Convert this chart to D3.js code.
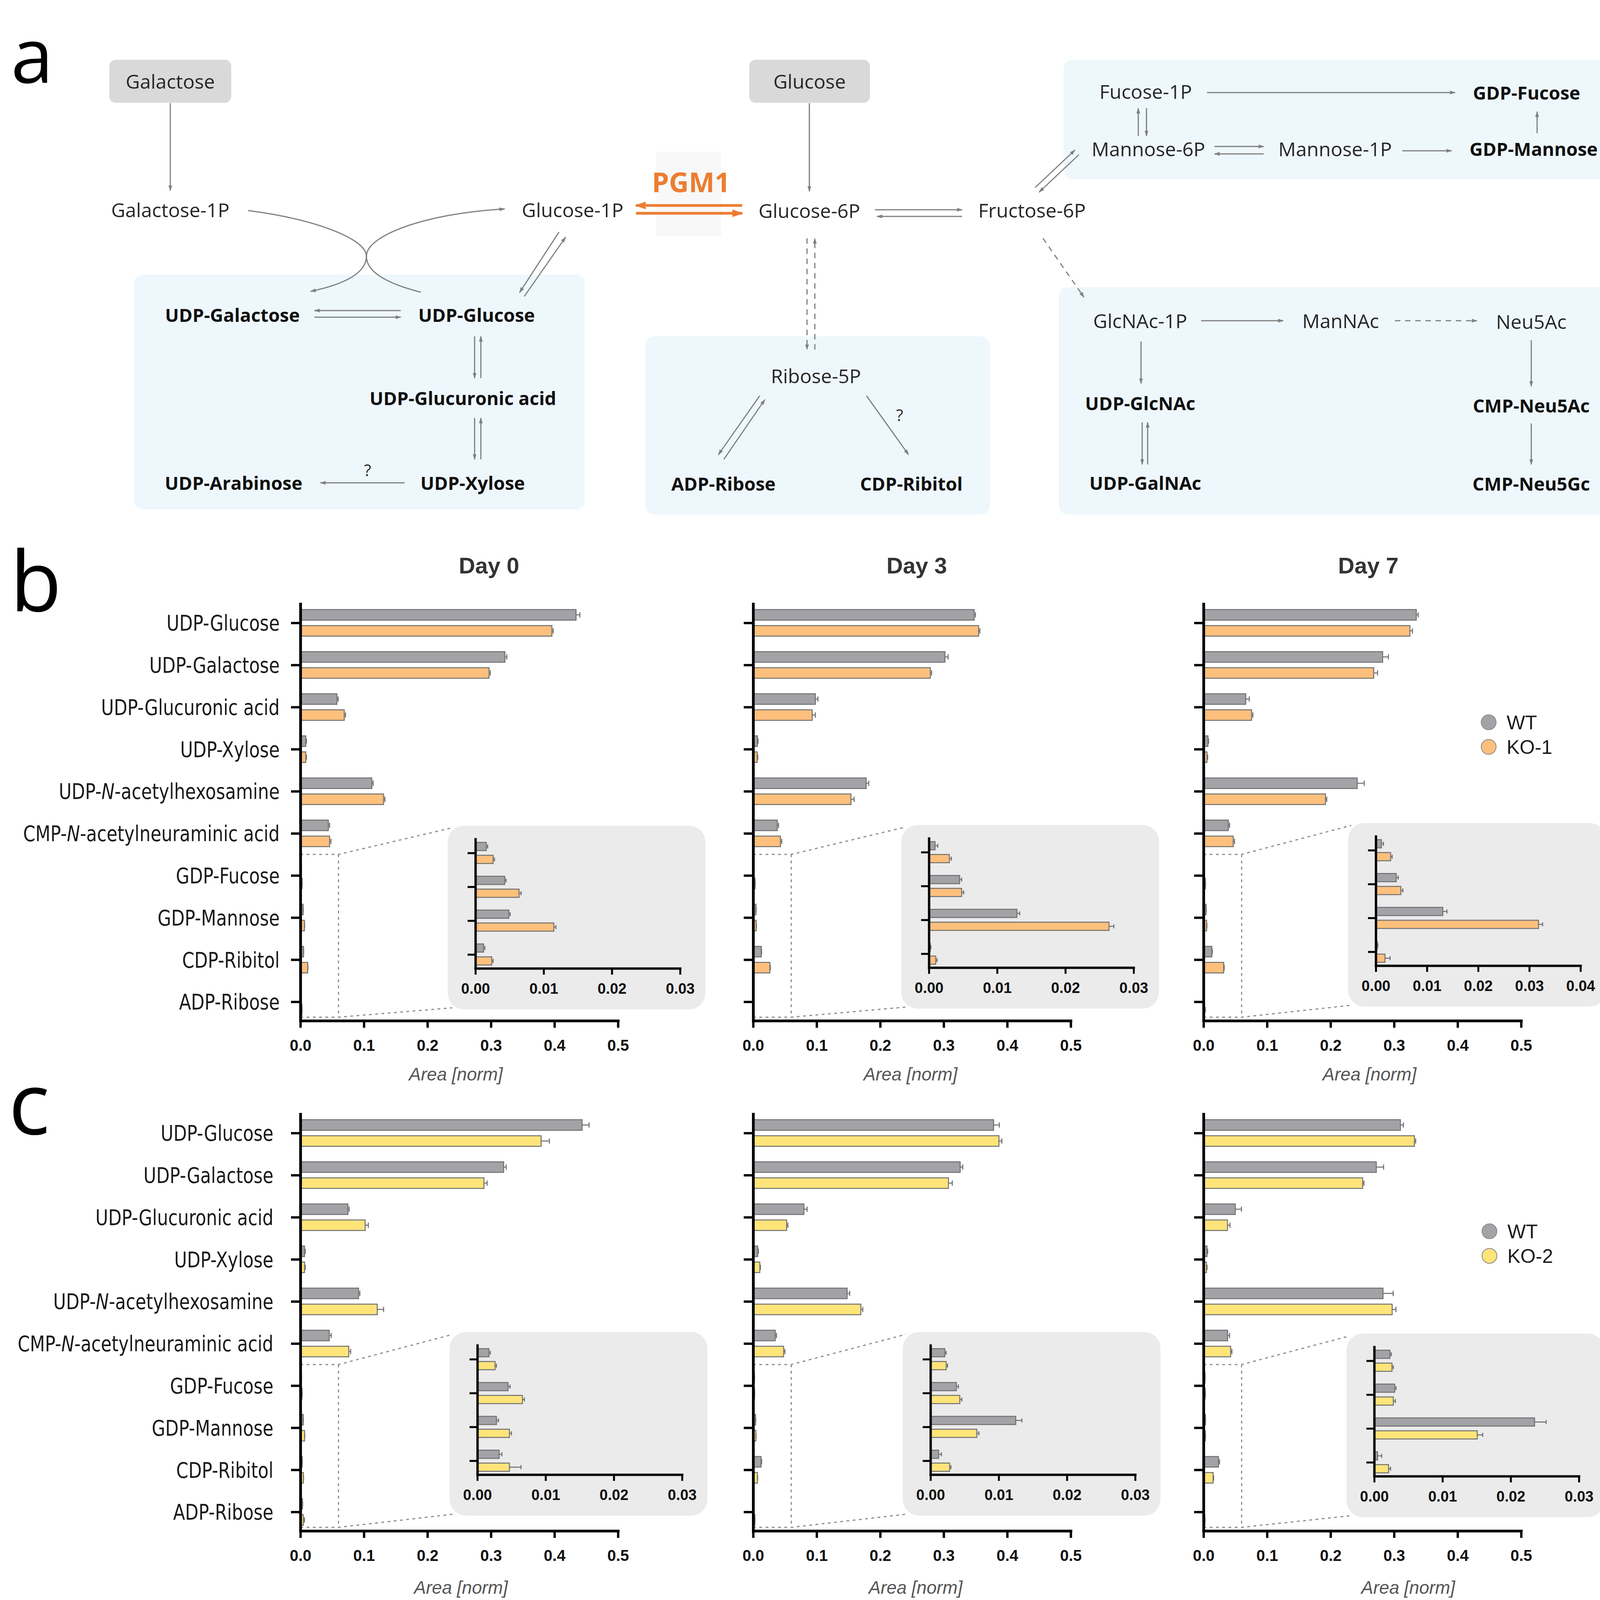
<!DOCTYPE html>
<html>
<head>
<meta charset="utf-8">
<script src="https://cdn.jsdelivr.net/npm/d3@7"></script>
<style>body{margin:0;background:#fff}</style>
</head>
<body>
<script>
// ---- data ----
var categories=["UDP-Glucose","UDP-Galactose","UDP-Glucuronic acid","UDP-Xylose","UDP-N-acetylhexosamine","CMP-N-acetylneuraminic acid","GDP-Fucose","GDP-Mannose","CDP-Ribitol","ADP-Ribose"];
var insetCategories=categories.slice(6);
var xTicks=[0,0.1,0.2,0.3,0.4,0.5];
var insetTicks3=[0,0.01,0.02,0.03];
var insetTicks4=[0,0.01,0.02,0.03,0.04];
var days=["Day 0","Day 3","Day 7"];

// panel b : WT vs KO-1
var b0_wt=[0.434,0.322,0.0575,0.0085,0.1125,0.044,0.0016,0.0043,0.0049,0.0012];
var b0_wtErr=[0.006,0.003,0.002,0.001,0.002,0.002,0.0002,0.0002,0.0002,0.0002];
var b0_ko=[0.396,0.297,0.069,0.0085,0.131,0.046,0.0026,0.0064,0.0115,0.0024];
var b0_koErr=[0.002,0.002,0.002,0.001,0.002,0.002,0.0002,0.0003,0.0003,0.0002];

var b3_wt=[0.348,0.302,0.098,0.0068,0.178,0.038,0.0009,0.0045,0.0129,0.0002];
var b3_wtErr=[0.002,0.005,0.004,0.001,0.004,0.002,0.0004,0.0003,0.0004,0.0001];
var b3_ko=[0.355,0.279,0.093,0.0064,0.154,0.043,0.003,0.0048,0.0264,0.001];
var b3_koErr=[0.002,0.002,0.005,0.001,0.005,0.002,0.0003,0.0003,0.0007,0.0002];

var b7_wt=[0.335,0.282,0.0665,0.007,0.242,0.039,0.0011,0.004,0.0131,0.0003];
var b7_wtErr=[0.003,0.009,0.0055,0.001,0.011,0.002,0.0004,0.0004,0.0008,0.0001];
var b7_ko=[0.325,0.268,0.0757,0.0055,0.192,0.0468,0.0029,0.0049,0.0318,0.0018];
var b7_koErr=[0.004,0.006,0.002,0.001,0.002,0.002,0.0003,0.0004,0.0008,0.001];

// panel c : WT vs KO-2
var c0_wt=[0.4435,0.320,0.0748,0.0066,0.0916,0.0455,0.0017,0.0045,0.0028,0.0032];
var c0_wtErr=[0.011,0.004,0.002,0.001,0.002,0.003,0.0002,0.0003,0.0003,0.0004];
var c0_ko=[0.379,0.289,0.102,0.0066,0.121,0.0762,0.0026,0.0066,0.0047,0.0047];
var c0_koErr=[0.013,0.005,0.005,0.001,0.01,0.003,0.0002,0.0003,0.0003,0.0017];

var c3_wt=[0.3786,0.326,0.080,0.0073,0.148,0.0348,0.0021,0.0038,0.0125,0.0012];
var c3_wtErr=[0.009,0.004,0.005,0.001,0.004,0.002,0.0002,0.0003,0.0009,0.0004];
var c3_ko=[0.387,0.3075,0.0527,0.0105,0.1696,0.048,0.0023,0.0043,0.0068,0.0028];
var c3_koErr=[0.0046,0.006,0.002,0.001,0.003,0.002,0.0002,0.0003,0.0003,0.0002];

var c7_wt=[0.310,0.272,0.050,0.0055,0.2826,0.038,0.0023,0.003,0.0235,0.0005];
var c7_wtErr=[0.0046,0.0115,0.0097,0.001,0.016,0.003,0.0002,0.0002,0.0017,0.0006];
var c7_ko=[0.332,0.2505,0.0377,0.0046,0.297,0.0427,0.0026,0.0028,0.0151,0.0021];
var c7_koErr=[0.002,0.002,0.004,0.001,0.006,0.002,0.0002,0.0003,0.0008,0.0003];

var grayFill="#a3a3a7", barStroke="#707070", orangeFill="#fdc07c", yellowFill="#ffe47a";
var catFont="'Liberation Sans Narrow','DejaVu Sans Condensed',sans-serif";
var numFont="'Liberation Sans',Arial,sans-serif";
var diaFont="'Open Sans',sans-serif";

var charts=[
 {x0:769,yTop:1546,yBot:2613,box:[1146,2114],insetMax:0.03,wt:b0_wt,wtErr:b0_wtErr,ko:b0_ko,koErr:b0_koErr,fill:orangeFill,title:days[0],titleX:1252,labelX:1167,labelY:2766,catEnd:716,catLeft:59},
 {x0:1928,yTop:1546,yBot:2613,box:[2307,2112],insetMax:0.03,wt:b3_wt,wtErr:b3_wtErr,ko:b3_ko,koErr:b3_koErr,fill:orangeFill,title:days[1],titleX:2347,labelX:2331,labelY:2766},
 {x0:3081,yTop:1546,yBot:2613,box:[3451,2107],insetMax:0.04,wt:b7_wt,wtErr:b7_wtErr,ko:b7_ko,koErr:b7_koErr,fill:orangeFill,title:days[2],titleX:3503,labelX:3506,labelY:2766,legend:[3811,1849,"KO-1"]},
 {x0:769,yTop:2852,yBot:3919,box:[1151,3410],insetMax:0.03,wt:c0_wt,wtErr:c0_wtErr,ko:c0_ko,koErr:c0_koErr,fill:yellowFill,labelX:1180,labelY:4080,catEnd:700,catLeft:45},
 {x0:1928,yTop:2852,yBot:3919,box:[2311,3410],insetMax:0.03,wt:c3_wt,wtErr:c3_wtErr,ko:c3_ko,koErr:c3_koErr,fill:yellowFill,labelX:2344,labelY:4080},
 {x0:3081,yTop:2852,yBot:3919,box:[3447,3414],insetMax:0.03,wt:c7_wt,wtErr:c7_wtErr,ko:c7_ko,koErr:c7_koErr,fill:yellowFill,labelX:3605,labelY:4080,legend:[3813,3152,"KO-2"]}
];

var svg=d3.select("body").append("svg").attr("width",4175).attr("height",4102);
var defs=svg.append("defs");
defs.append("marker").attr("id","ah").attr("viewBox","0 0 10 10").attr("refX",9).attr("refY",5)
  .attr("markerWidth",15).attr("markerHeight",15).attr("markerUnits","userSpaceOnUse").attr("orient","auto")
  .append("path").attr("d","M0,1.8L10,5L0,8.2z").attr("fill","#7f7f7f");
defs.append("marker").attr("id","ahO").attr("viewBox","0 0 10 10").attr("refX",9).attr("refY",5)
  .attr("markerWidth",28).attr("markerHeight",28).attr("markerUnits","userSpaceOnUse").attr("orient","auto")
  .append("path").attr("d","M0,1.5L10,5L0,8.5z").attr("fill","#ed7d31");

// ---- panel a : pathway diagram ----
var blueBoxes=[[344,703,1153,601],[1652,861,882,456],[2723,153,1421,306],[2711,735,1420,582]];
var grayBoxes=[[280,153,312,110,"Galactose"],[1918,153,309,110,"Glucose"]];
var nodes=[
 ["Galactose-1P",436,537,0],["Glucose-1P",1466,537,0],["Glucose-6P",2072,539,0],["Fructose-6P",2642,538,0],
 ["UDP-Galactose",595,806,1],["UDP-Glucose",1220,806,1],["UDP-Glucuronic acid",1185,1019,1],
 ["UDP-Xylose",1210,1236,1],["UDP-Arabinose",598,1236,1],
 ["Ribose-5P",2089,962,0],["ADP-Ribose",1852,1238,1],["CDP-Ribitol",2333,1238,1],
 ["Fucose-1P",2933,234,0],["GDP-Fucose",3908,237,1],["Mannose-6P",2940,381,0],["Mannose-1P",3418,381,0],["GDP-Mannose",3926,381,1],
 ["GlcNAc-1P",2919,821,0],["ManNAc",3432,821,0],["Neu5Ac",3920,823,0],
 ["UDP-GlcNAc",2919,1032,1],["UDP-GalNAc",2932,1236,1],["CMP-Neu5Ac",3920,1038,1],["CMP-Neu5Gc",3920,1238,1]
];
var qmarks=[[941,1202],[2303,1061]];
var arrows=[
 [436,264,436,488],[1026,795,805,795],[805,812,1026,812],
 [1215,861,1215,968],[1231,968,1231,861],[1215,1070,1215,1176],[1231,1176,1231,1070],
 [1036,1236,820,1236],[1431,594,1330,749],[1342,759,1448,607],
 [2072,264,2072,490],[2240,537,2463,537],[2463,554,2245,554],
 [1945,1013,1839,1164],[1853,1176,1958,1023],[2218,1013,2326,1164],
 [2650,480,2752,384],[2762,396,2660,492],
 [3090,237,3725,237],[2914,348,2914,277],[2935,277,2935,348],
 [3109,375,3235,375],[3235,394,3109,394],[3590,386,3716,386],[3935,341,3935,286],
 [3075,821,3285,821],[2921,874,2921,982],[2924,1081,2924,1189],[2938,1189,2938,1081],
 [3920,871,3920,989],[3920,1084,3920,1189]
];
var dashedArrows=[[2066,610,2066,895],[2086,895,2086,610],[2670,610,2775,761],[3571,821,3781,821]];
var pgmArrows=[[1900,526,1628,526],[1628,546,1900,546]];

var ga=svg.append("g");
ga.selectAll(".bb").data(blueBoxes).enter().append("rect")
  .attr("x",function(d){return d[0];}).attr("y",function(d){return d[1];})
  .attr("width",function(d){return d[2];}).attr("height",function(d){return d[3];})
  .attr("rx",22).attr("fill","#eef7fc");
ga.selectAll(".gb").data(grayBoxes).enter().append("rect")
  .attr("x",function(d){return d[0];}).attr("y",function(d){return d[1];})
  .attr("width",function(d){return d[2];}).attr("height",function(d){return d[3];})
  .attr("rx",16).attr("fill","#d9d9d9");
ga.selectAll(".gbt").data(grayBoxes).enter().append("text")
  .attr("x",function(d){return d[0]+d[2]/2;}).attr("y",function(d){return d[1]+d[3]/2;})
  .attr("text-anchor","middle").attr("dominant-baseline","central")
  .attr("font-family",diaFont).attr("font-size",50).attr("fill","#262626").text(function(d){return d[4];});
ga.append("rect").attr("x",1680).attr("y",388).attr("width",166).attr("height",217).attr("fill","#f8f8f8");

ga.selectAll(".ar").data(arrows).enter().append("line")
  .attr("x1",function(d){return d[0];}).attr("y1",function(d){return d[1];})
  .attr("x2",function(d){return d[2];}).attr("y2",function(d){return d[3];})
  .attr("stroke","#7f7f7f").attr("stroke-width",3).attr("marker-end","url(#ah)");
ga.selectAll(".da").data(dashedArrows).enter().append("line")
  .attr("x1",function(d){return d[0];}).attr("y1",function(d){return d[1];})
  .attr("x2",function(d){return d[2];}).attr("y2",function(d){return d[3];})
  .attr("stroke","#7f7f7f").attr("stroke-width",3).attr("stroke-dasharray","14,12").attr("marker-end","url(#ah)");
ga.selectAll(".pa").data(pgmArrows).enter().append("line")
  .attr("x1",function(d){return d[0];}).attr("y1",function(d){return d[1];})
  .attr("x2",function(d){return d[2];}).attr("y2",function(d){return d[3];})
  .attr("stroke","#ed7d31").attr("stroke-width",7).attr("marker-end","url(#ahO)");
ga.append("path").attr("d","M635,539C800,560 938,610 938,656C938,700 880,728 795,746")
  .attr("fill","none").attr("stroke","#7f7f7f").attr("stroke-width",3).attr("marker-end","url(#ah)");
ga.append("path").attr("d","M1077,748C1000,728 938,700 938,656C938,600 1100,545 1292,535")
  .attr("fill","none").attr("stroke","#7f7f7f").attr("stroke-width",3).attr("marker-end","url(#ah)");

ga.selectAll(".nd").data(nodes).enter().append("text")
  .attr("x",function(d){return d[1];}).attr("y",function(d){return d[2];})
  .attr("text-anchor","middle").attr("dominant-baseline","central")
  .attr("font-family",diaFont).attr("font-size",function(d){return d[3]?47:50;})
  .attr("font-weight",function(d){return d[3]?"bold":"normal";})
  .attr("fill",function(d){return d[3]?"#111":"#262626";})
  .text(function(d){return d[0];});
ga.selectAll(".qm").data(qmarks).enter().append("text")
  .attr("x",function(d){return d[0];}).attr("y",function(d){return d[1];})
  .attr("text-anchor","middle").attr("dominant-baseline","central")
  .attr("font-family",diaFont).attr("font-size",42).attr("fill","#262626").text("?");
ga.append("text").attr("x",1769).attr("y",465).attr("text-anchor","middle").attr("dominant-baseline","central")
  .attr("font-family",diaFont).attr("font-weight","bold").attr("font-size",70).attr("fill","#ed7d31").text("PGM1");

// panel letters
[["a",28,212,195],["b",26,1565,215],["c",22,2904,220]].forEach(function(p){
  svg.append("text").attr("x",p[1]).attr("y",p[2]).attr("font-family",diaFont).attr("font-size",p[3])
    .attr("fill","#000").text(p[0]);
});

// ---- bar charts ----
function drawBars(g,x,y,c,cats,h,off){
  var series=[{v:c.wt,e:c.wtErr,fill:grayFill,d:-off},{v:c.ko,e:c.koErr,fill:c.fill,d:off}];
  series.forEach(function(s){
    var rows=cats.map(function(k){var i=categories.indexOf(k);return {k:k,v:s.v[i],e:s.e[i]};});
    var sg=g.append("g");
    sg.selectAll("line.eb").data(rows).enter().append("line")
      .attr("x1",function(d){return x(d.v);}).attr("x2",function(d){return x(d.v+d.e);})
      .attr("y1",function(d){return y(d.k)+s.d;}).attr("y2",function(d){return y(d.k)+s.d;})
      .attr("stroke","#6a6a6a").attr("stroke-width",2.5);
    sg.selectAll("line.cap").data(rows).enter().append("line")
      .attr("x1",function(d){return x(d.v+d.e);}).attr("x2",function(d){return x(d.v+d.e);})
      .attr("y1",function(d){return y(d.k)+s.d-h*0.25;}).attr("y2",function(d){return y(d.k)+s.d+h*0.25;})
      .attr("stroke","#6a6a6a").attr("stroke-width",2.5);
    sg.selectAll("rect").data(rows).enter().append("rect")
      .attr("x",x(0)).attr("y",function(d){return y(d.k)+s.d-h/2;})
      .attr("width",function(d){return Math.max(0,x(d.v)-x(0));}).attr("height",h)
      .attr("fill",s.fill).attr("stroke",barStroke).attr("stroke-width",2.5);
  });
}

function styleAxis(a,w,fs){
  a.select(".domain").attr("stroke","#000").attr("stroke-width",w).attr("stroke-linecap","square");
  a.selectAll(".tick line").attr("stroke","#000").attr("stroke-width",w-1);
  a.selectAll(".tick text").attr("font-family",numFont).attr("font-weight","bold").attr("font-size",fs).attr("fill","#111");
}

charts.forEach(function(c){
  var g=svg.append("g");
  var x=d3.scaleLinear().domain([0,0.5]).range([c.x0,c.x0+813]);
  var y=d3.scalePoint().domain(categories).range([c.yTop,c.yBot]).padding(0.45);
  var bx=c.box[0], by=c.box[1], bw=660, bh=470;

  // zoom guide
  var rx=x(0.06), rt=y(categories[5])+y.step()/2, rb=c.yBot-9;
  g.append("path")
    .attr("d","M"+x(0)+","+rt+"H"+rx+"L"+(bx+8)+","+(by+6)+"M"+x(0)+","+rb+"H"+rx+"L"+(bx+12)+","+(by+bh-4)+"M"+rx+","+rt+"V"+rb)
    .attr("fill","none").attr("stroke","#8c8c8c").attr("stroke-width",3).attr("stroke-dasharray","7,9");

  drawBars(g,x,y,c,categories,27,20.5);

  var ya=g.append("g").attr("transform","translate("+c.x0+",0)")
    .call(d3.axisLeft(y).tickSize(24).tickSizeOuter(0).tickFormat(""));
  styleAxis(ya,7,40);
  var xa=g.append("g").attr("transform","translate(0,"+c.yBot+")")
    .call(d3.axisBottom(x).tickValues(xTicks).tickFormat(d3.format(".1f")).tickSize(18).tickSizeOuter(0).tickPadding(31));
  styleAxis(xa,7,40);

  if(c.catEnd){
    var lg=g.append("g");
    var lab=lg.selectAll(".cat").data(categories).enter().append("text")
      .attr("x",c.catEnd).attr("y",function(d){return y(d);}).attr("dy","0.36em")
      .attr("text-anchor","end").attr("font-family",catFont).attr("font-size",55).attr("fill","#1a1a1a");
    lab.each(function(d){
      var t=d3.select(this), parts=d.split("-N-");
      if(parts.length>1){
        t.append("tspan").text(parts[0]+"-");
        t.append("tspan").attr("font-style","italic").text("N");
        t.append("tspan").text("-"+parts[1]);
      } else t.text(d);
    });
    // squeeze horizontally so the longest label fits the reference width
    var maxW=d3.max(lab.nodes(),function(n){return n.getComputedTextLength();});
    var k=Math.min(1,(c.catEnd-c.catLeft)/maxW);
    lg.attr("transform","translate("+c.catEnd+",0) scale("+k+",1) translate("+(-c.catEnd)+",0)");
  }
  if(c.title){
    g.append("text").attr("x",c.titleX).attr("y",1468).attr("text-anchor","middle")
      .attr("font-family",numFont).attr("font-weight","bold").attr("font-size",58).attr("fill","#333").text(c.title);
  }
  g.append("text").attr("x",c.labelX).attr("y",c.labelY).attr("text-anchor","middle")
    .attr("font-family",numFont).attr("font-style","italic").attr("font-size",46).attr("fill","#555").text("Area [norm]");

  // inset
  g.append("rect").attr("x",bx).attr("y",by).attr("width",bw).attr("height",bh).attr("rx",42).attr("fill","#ebebeb");
  var ix=d3.scaleLinear().domain([0,c.insetMax]).range([bx+71,bx+71+524]);
  var iy=d3.scalePoint().domain(insetCategories).range([by+34,by+365]).padding(0.41);
  drawBars(g,ix,iy,c,insetCategories,21,16.5);
  var iya=g.append("g").attr("transform","translate("+(bx+71)+",0)")
    .call(d3.axisLeft(iy).tickSize(20).tickSizeOuter(0).tickFormat(""));
  styleAxis(iya,6,38);
  var ixa=g.append("g").attr("transform","translate(0,"+(by+365)+")")
    .call(d3.axisBottom(ix).tickValues(c.insetMax>0.035?insetTicks4:insetTicks3).tickFormat(d3.format(".2f")).tickSize(16).tickSizeOuter(0).tickPadding(22));
  styleAxis(ixa,6,38);

  if(c.legend){
    var L=c.legend;
    [["WT",grayFill],[L[2],c.fill]].forEach(function(e,i){
      g.append("circle").attr("cx",L[0]).attr("cy",L[1]+i*63).attr("r",19).attr("fill",e[1]).attr("stroke","#8a8a8a").attr("stroke-width",2);
      g.append("text").attr("x",L[0]+46).attr("y",L[1]+i*63).attr("dy","0.36em")
        .attr("font-family",numFont).attr("font-size",50).attr("fill","#1a1a1a").text(e[0]);
    });
  }
});
</script>
</body>
</html>
